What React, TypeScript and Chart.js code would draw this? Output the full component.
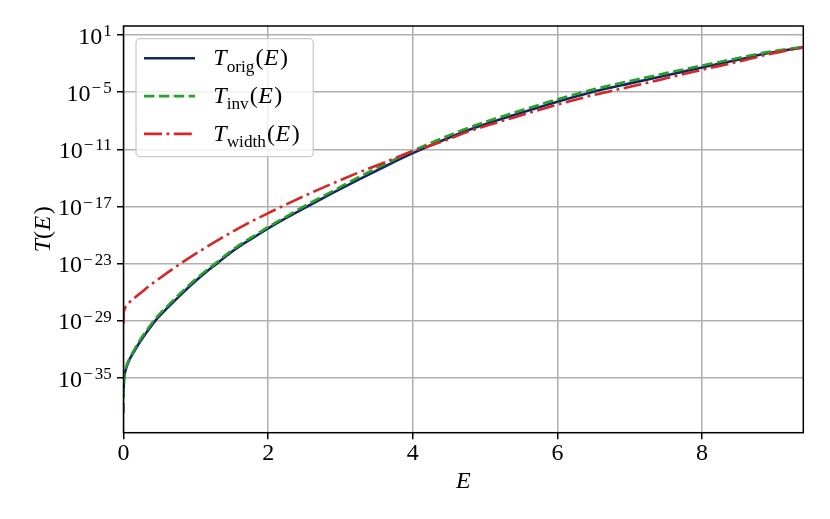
import React, { useEffect, useRef } from "react";
import { Chart, registerables } from "chart.js";

Chart.register(...registerables);

// ---- data (log10 of T(E)) ----
const E_ORIG = [0, 0.004, 0.015, 0.04, 0.08, 0.14, 0.22, 0.32, 0.45, 0.6, 0.78, 0.965, 1.13, 1.29, 1.47, 1.66, 1.83, 2.0, 2.25, 2.54, 2.9, 3.23, 3.6, 4.0, 4.4, 4.8, 5.4, 6.0, 6.5, 7.05, 7.5, 8.0, 8.5, 8.9, 9.4];
const LOG_T_ORIG = [-37.0, -35.6, -34.7, -33.9, -33.1, -32.3, -31.3, -30.2, -28.9, -27.7, -26.35, -25.03, -23.95, -23.0, -21.9, -20.9, -20.1, -19.3, -18.2, -17.0, -15.55, -14.25, -12.85, -11.4, -10.1, -8.9, -7.4, -6.0, -4.95, -4.0, -3.25, -2.4, -1.6, -0.92, -0.3];

const E_INV = [0, 0.003, 0.01, 0.03, 0.08, 0.14, 0.22, 0.32, 0.45, 0.6, 0.78, 0.965, 1.13, 1.29, 1.47, 1.66, 1.83, 2.0, 2.25, 2.54, 2.9, 3.23, 3.6, 4.0, 4.4, 4.8, 5.4, 6.0, 6.5, 7.05, 7.5, 8.0, 8.5, 8.9, 9.4];
const LOG_T_INV = [-38.7, -36.5, -35.0, -34.0, -33.0, -32.15, -31.1, -30.0, -28.7, -27.5, -26.15, -24.85, -23.8, -22.85, -21.75, -20.75, -19.95, -19.15, -18.05, -16.8, -15.35, -14.0, -12.6, -11.15, -9.85, -8.65, -7.15, -5.75, -4.7, -3.75, -3.0, -2.2, -1.42, -0.8, -0.25];

const E_WIDTH = [0, 0.002, 0.01, 0.03, 0.07, 0.15, 0.25, 0.345, 0.505, 0.71, 1.0, 1.335, 1.66, 2.0, 2.54, 3.23, 3.6, 4.0, 4.4, 4.8, 5.4, 6.0, 6.5, 7.05, 7.5, 8.0, 8.5, 8.9, 9.4];
const LOG_T_WIDTH = [-29.3, -28.3, -27.9, -27.5, -27.15, -26.6, -26.0, -25.4, -24.5, -23.4, -21.95, -20.4, -19.0, -17.7, -15.75, -13.5, -12.4, -11.2, -10.2, -9.05, -7.65, -6.3, -5.3, -4.35, -3.55, -2.65, -1.8, -1.05, -0.3];

const SERIES_SUBS = ["orig", "inv", "width"];

const X_TICKS = [0, 2, 4, 6, 8];
const Y_TICKS = [-35, -29, -23, -17, -11, -5, 1];
const X_MIN = 0;
const X_MAX = 9.4;
const Y_MIN = -40.74;
const Y_MAX = 1.945;

// ---- styles ----
const NAVY = "#102a5c";
const GREEN = "#2ca02c";
const RED = "#d62728";
const COLORS = [NAVY, GREEN, RED];
const DASHES: number[][] = [[], [10.4, 4.5], [18, 4.5, 2.8, 4.5]];
const LINE_W = 2.6;
const FONT = '"Liberation Serif", "DejaVu Serif", "Times New Roman", serif';
const W = 830;
const H = 519;

function drawMath(ctx: CanvasRenderingContext2D, x: number, base: number, sub: string | null, size: number) {
  const subSize = size * 0.72;
  ctx.font = `italic ${size}px ${FONT}`;
  ctx.fillText("T", x, base);
  x += ctx.measureText("T").width;
  if (sub) {
    ctx.font = `${subSize}px ${FONT}`;
    ctx.fillText(sub, x, base + 6.5);
    x += ctx.measureText(sub).width + 1;
  }
  ctx.font = `${size}px ${FONT}`;
  ctx.fillText("(", x, base);
  x += ctx.measureText("(").width + 0.5;
  ctx.font = `italic ${size}px ${FONT}`;
  ctx.fillText("E", x, base);
  x += ctx.measureText("E").width + 1.5;
  ctx.font = `${size}px ${FONT}`;
  ctx.fillText(")", x, base);
  x += ctx.measureText(")").width;
  return x;
}

function mathWidth(ctx: CanvasRenderingContext2D, size: number) {
  ctx.font = `italic ${size}px ${FONT}`;
  let w = ctx.measureText("T").width + ctx.measureText("E").width + 2;
  ctx.font = `${size}px ${FONT}`;
  w += ctx.measureText("(").width + ctx.measureText(")").width;
  return w;
}

const mplPlugin = {
  id: "mplDecor",
  afterDraw(chart: any) {
    const { ctx, chartArea: ca, scales } = chart;
    const xs = scales.x;
    const ys = scales.y;
    ctx.save();
    ctx.setLineDash([]);
    // spines
    ctx.strokeStyle = "#000";
    ctx.lineWidth = 1.5;
    ctx.strokeRect(ca.left, ca.top, ca.right - ca.left, ca.bottom - ca.top);

    ctx.fillStyle = "#000";
    ctx.textBaseline = "alphabetic";
    ctx.textAlign = "left";

    // y tick labels 10^n
    const baseSize = 24;
    const supSize = 17;
    const rightEdge = ca.left - 11.8;
    for (const v of Y_TICKS) {
      const y = ys.getPixelForValue(v);
      const baseline = y + 8.5;
      const digits = String(Math.abs(v));
      ctx.font = `${supSize}px ${FONT}`;
      const wDigits = ctx.measureText(digits).width;
      const wMinus = v < 0 ? ctx.measureText("\u2212").width + 2 : 0;
      ctx.font = `${baseSize}px ${FONT}`;
      const wBase = ctx.measureText("10").width;
      let x = rightEdge - wDigits - wMinus - wBase - 1;
      ctx.fillText("10", x, baseline);
      x += wBase + 1;
      ctx.font = `${supSize}px ${FONT}`;
      if (v < 0) {
        ctx.fillText("\u2212", x, baseline - 7.5);
        x += wMinus;
      }
      ctx.fillText(digits, x, baseline - 7.5);
    }

    // x tick labels
    ctx.font = `${baseSize}px ${FONT}`;
    ctx.textAlign = "center";
    for (const v of X_TICKS) {
      ctx.fillText(String(v), xs.getPixelForValue(v), ca.bottom + 27.3);
    }

    // x title
    ctx.font = `italic 24px ${FONT}`;
    ctx.fillText("E", (ca.left + ca.right) / 2, ca.bottom + 55);

    // y title
    ctx.textAlign = "left";
    ctx.save();
    ctx.translate(49.5, (ca.top + ca.bottom) / 2);
    ctx.rotate(-Math.PI / 2);
    const tw = mathWidth(ctx, 24);
    drawMath(ctx, -tw / 2, 0, null, 24);
    ctx.restore();

    // legend
    const lx0 = ca.left + 12.5;
    const ly0 = ca.top + 12.7;
    const lw = 177.3;
    const lh = 118;
    ctx.beginPath();
    ctx.roundRect(lx0, ly0, lw, lh, 4);
    ctx.fillStyle = "rgba(255,255,255,0.8)";
    ctx.fill();
    ctx.strokeStyle = "#cccccc";
    ctx.lineWidth = 1.3;
    ctx.stroke();
    for (let i = 0; i < SERIES_SUBS.length; i++) {
      const ry = ly0 + 19.6 + i * 37.8;
      ctx.beginPath();
      ctx.strokeStyle = COLORS[i];
      ctx.lineWidth = LINE_W;
      ctx.setLineDash(DASHES[i]);
      ctx.moveTo(lx0 + 8, ry);
      ctx.lineTo(lx0 + 59, ry);
      ctx.stroke();
      ctx.setLineDash([]);
      ctx.fillStyle = "#000";
      drawMath(ctx, lx0 + 77.3, ry + 6.8, SERIES_SUBS[i], 24);
    }
    ctx.restore();
  },
};

function pts(xs: number[], ys: number[]) {
  return xs.map((x, i) => ({ x, y: ys[i] }));
}

export default function App() {
  const ref = useRef<HTMLCanvasElement | null>(null);
  useEffect(() => {
    document.body.style.margin = "0";
    const canvas = ref.current;
    if (!canvas) return;
    const series = [
      { data: pts(E_ORIG, LOG_T_ORIG), order: 2 },
      { data: pts(E_INV, LOG_T_INV), order: 1 },
      { data: pts(E_WIDTH, LOG_T_WIDTH), order: 0 },
    ];
    const chart = new Chart(canvas, {
      type: "line",
      data: {
        datasets: series.map((s, i) => ({
          label: "T_" + SERIES_SUBS[i] + "(E)",
          data: s.data,
          order: s.order,
          borderColor: COLORS[i],
          backgroundColor: COLORS[i],
          borderWidth: LINE_W,
          borderDash: DASHES[i],
          borderCapStyle: "butt",
          pointRadius: 0,
          fill: false,
          cubicInterpolationMode: "monotone",
        })),
      },
      options: {
        animation: false,
        responsive: false,
        devicePixelRatio: 1,
        layout: { padding: { top: 26, right: 26.7, left: 0, bottom: 0 } },
        plugins: { legend: { display: false }, tooltip: { enabled: false } },
        scales: {
          x: {
            type: "linear",
            min: X_MIN,
            max: X_MAX,
            afterBuildTicks: (s: any) => {
              s.ticks = X_TICKS.map((v) => ({ value: v }));
            },
            afterFit: (s: any) => {
              s.height = H - 432.7;
            },
            ticks: { display: false },
            border: { display: false },
            grid: { color: "#b0b0b0", lineWidth: 1.5, tickLength: 6.5, tickColor: "#000", tickWidth: 1.5 },
          },
          y: {
            type: "linear",
            min: Y_MIN,
            max: Y_MAX,
            afterBuildTicks: (s: any) => {
              s.ticks = Y_TICKS.map((v) => ({ value: v }));
            },
            afterFit: (s: any) => {
              s.width = 123.5;
            },
            ticks: { display: false },
            border: { display: false },
            grid: { color: "#b0b0b0", lineWidth: 1.5, tickLength: 6.5, tickColor: "#000", tickWidth: 1.5 },
          },
        },
      },
      plugins: [mplPlugin],
    } as any);
    return () => chart.destroy();
  }, []);
  return (
    <div style={{ position: "absolute", left: 0, top: 0, width: W, height: H, background: "#fff" }}>
      <canvas ref={ref} width={W} height={H} style={{ display: "block" }} />
    </div>
  );
}
